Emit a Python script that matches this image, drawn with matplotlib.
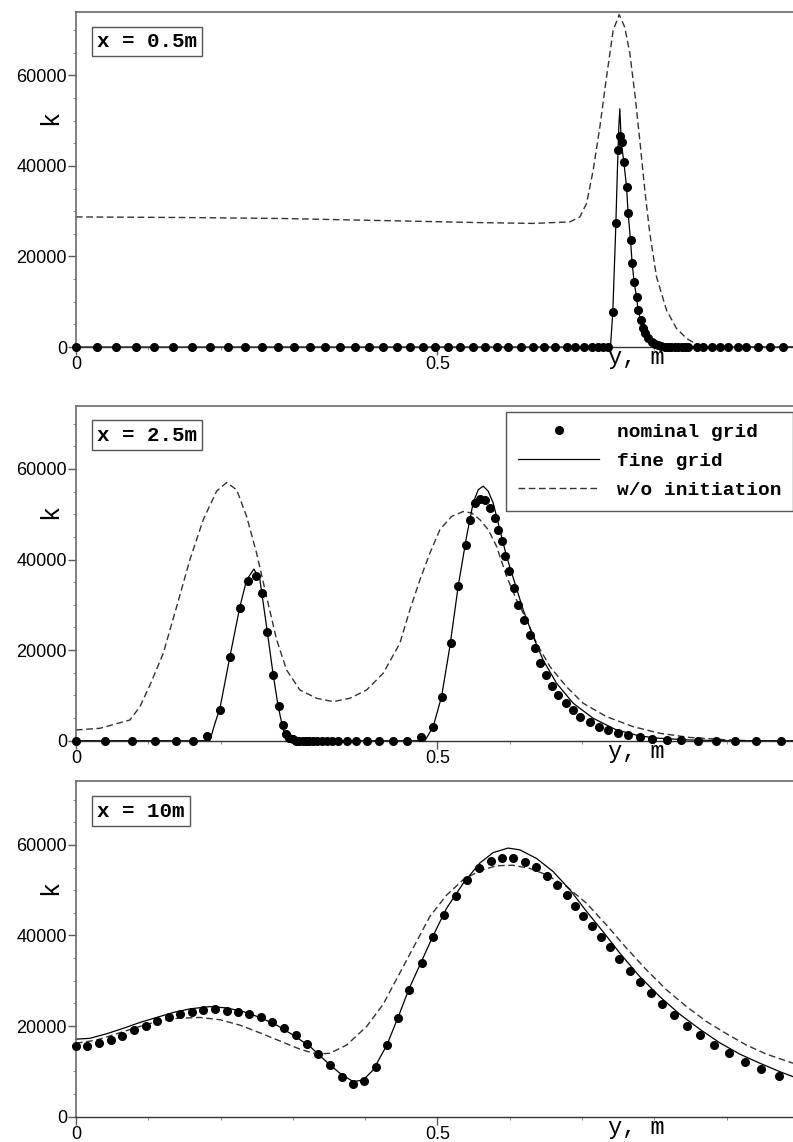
import matplotlib
matplotlib.use("Agg")
import matplotlib.pyplot as plt
from matplotlib.ticker import MultipleLocator
from matplotlib.lines import Line2D
import matplotlib.transforms as mtransforms

# x = 0.5 m
p1_dots_y = [0, 0.0286, 0.0549, 0.0826, 0.1083, 0.1342, 0.1600, 0.1849, 0.2098, 0.2337,
             0.2568, 0.2790, 0.3011, 0.3237, 0.3444, 0.3652, 0.3859, 0.4052, 0.4250, 0.4436,
             0.4620, 0.4795, 0.4965, 0.5149, 0.5311, 0.5487, 0.5657, 0.5819, 0.5979, 0.6151,
             0.6317, 0.6473, 0.6625, 0.6787, 0.6902, 0.7026, 0.7133, 0.7224, 0.7293, 0.7362,
             0.7427, 0.7469, 0.7497, 0.7524, 0.7548, 0.7580, 0.7617, 0.7639, 0.7672, 0.7695,
             0.7722, 0.7755, 0.7777, 0.7811, 0.7838, 0.7870, 0.7916, 0.7963, 0.8008, 0.8054,
             0.8100, 0.8147, 0.8192, 0.8239, 0.8285, 0.8331, 0.8378, 0.8423, 0.8469, 0.8585,
             0.8677, 0.8793, 0.8907, 0.9022, 0.9161, 0.9276, 0.9437, 0.9599, 0.9783]
p1_dots_k = [0] * 40 + [7800, 27400, 43400, 46700, 45300, 40900, 35300, 29500, 23600, 18500,
                        14300, 11100, 8200, 5900, 4100, 3000, 1900, 1200, 660, 370,
                        150, 60] + [0] * 17
p1_fine_y = [0, 0.7395, 0.7427, 0.7465, 0.7492, 0.7510, 0.7524, 0.7545, 0.7580, 0.7617,
             0.7639, 0.7672, 0.7695, 0.7722, 0.7755, 0.7777, 0.7811, 0.7838, 0.7870, 0.7916,
             0.7963, 0.8008, 0.8054, 0.8120, 0.8200, 0.992]
p1_fine_k = [0, 0, 7800, 25000, 39800, 48600, 52600, 45000, 40900, 35300,
             29500, 23600, 18500, 14300, 11100, 8200, 5900, 4100, 3000, 1900,
             1200, 660, 370, 100, 0, 0]
p1_woi_y = [0, 0.15, 0.289, 0.40, 0.448, 0.55, 0.6325, 0.6833, 0.6971, 0.7064,
            0.7155, 0.7248, 0.7340, 0.7432, 0.7515, 0.7593, 0.7663, 0.7732, 0.7801, 0.7870,
            0.7939, 0.8032, 0.8170, 0.8308, 0.8447, 0.8562, 0.870, 0.992]
p1_woi_k = [28730, 28600, 28370, 28000, 27850, 27500, 27300, 27630, 28730, 31700,
            39000, 48600, 59600, 69900, 73400, 70600, 64800, 55900, 45600, 34600,
            25100, 15500, 8160, 4120, 1910, 820, 0, 0]

# x = 2.5 m
p2_dots_y = [0, 0.0401, 0.0770, 0.1093, 0.1383, 0.1614, 0.1816, 0.1992, 0.2130, 0.2268,
             0.2375, 0.2490, 0.2568, 0.2646, 0.2729, 0.2808, 0.2858, 0.2904, 0.2950, 0.2997,
             0.3043, 0.3089, 0.3135, 0.3181, 0.3227, 0.3283, 0.3338, 0.3398, 0.3468, 0.3537,
             0.3628, 0.3744, 0.3873, 0.4021, 0.4187, 0.4381, 0.4583, 0.4768, 0.4934, 0.5066,
             0.5187, 0.5288, 0.5390, 0.5454, 0.5519, 0.5588, 0.5657, 0.5726, 0.5795, 0.5841,
             0.5888, 0.5938, 0.5993, 0.6058, 0.6118, 0.6196, 0.6279, 0.6349, 0.6418, 0.6496,
             0.6579, 0.6671, 0.6773, 0.6870, 0.6971, 0.7109, 0.7238, 0.7362, 0.7501, 0.7639,
             0.7810, 0.7976, 0.8170, 0.8377, 0.8607, 0.8852, 0.9115, 0.9414, 0.9760]
p2_dots_k = [0, 0, 0, 0, 0, 0, 1100, 6790, 18400, 29400,
             35200, 36300, 32600, 24000, 14500, 7670, 3470, 1480, 660, 310,
             0, 0, 0, 0, 0, 0, 0, 0, 0, 0,
             0, 0, 0, 0, 0, 0, 0, 880, 3100, 9730,
             21500, 34100, 43300, 48800, 52500, 53400, 53200, 51400, 49200, 46600,
             44000, 40700, 37400, 33700, 30000, 26700, 23400, 20400, 17200, 14500,
             12100, 10100, 8270, 6790, 5310, 4200, 3100, 2370, 1640, 1260,
             880, 400, 200, 100, 0, 0, 0, 0, 0]
p2_fine_y = [0, 0.1853, 0.1923, 0.1992, 0.2130, 0.2268, 0.2361, 0.2462, 0.2545, 0.2637,
             0.2729, 0.2798, 0.2867, 0.2960, 0.3052, 0.4827, 0.4942, 0.5058, 0.5173, 0.5288,
             0.5404, 0.5495, 0.5565, 0.5634, 0.5703, 0.5772, 0.5864, 0.5957, 0.6072, 0.6187,
             0.6325, 0.6463, 0.6648, 0.6879, 0.7155, 0.7478, 0.7801, 0.8077, 0.85, 0.90, 0.992]
p2_fine_k = [0, 0, 3840, 7160, 18600, 29600, 35500, 37900, 35500, 25200,
             14500, 7520, 2370, 530, 0, 0, 3100, 9730, 20800, 34100,
             45100, 52500, 55400, 56200, 55100, 52500, 46600, 40700, 34800, 28900,
             23000, 17800, 12700, 8270, 4950, 2370, 1040, 530, 150, 0, 0]
p2_woi_y = [0, 0.0332, 0.0747, 0.0885, 0.1024, 0.1208, 0.1393, 0.1577, 0.1761, 0.1946,
            0.2085, 0.2223, 0.2361, 0.2499, 0.2637, 0.2776, 0.2914, 0.3098, 0.3329, 0.3559,
            0.3790, 0.4021, 0.4251, 0.4481, 0.4620, 0.4758, 0.4896, 0.5035, 0.5196, 0.5357,
            0.5473, 0.5588, 0.5703, 0.5819, 0.5957, 0.6095, 0.6234, 0.6372, 0.6556, 0.6787,
            0.7017, 0.7340, 0.7708, 0.8077, 0.85, 0.90, 0.93, 0.992]
p2_woi_k = [2370, 2740, 4580, 7520, 12300, 19300, 29600, 40000, 48800, 55100,
            57000, 55400, 49500, 41400, 31800, 22300, 15600, 11200, 9370, 8620,
            9370, 11200, 14900, 21500, 28900, 35500, 41400, 46600, 49500, 50600,
            50300, 48800, 46600, 42900, 36300, 31100, 26700, 21500, 16400, 11900,
            8270, 5310, 3100, 1640, 700, 200, 0, 0]

# x = 10 m
p3_dots_y = [0, 0.0157, 0.0318, 0.0480, 0.0641, 0.0802, 0.0964, 0.1125, 0.1282, 0.1443,
             0.1604, 0.1761, 0.1918, 0.2084, 0.2245, 0.2397, 0.2559, 0.2715, 0.2877, 0.3038,
             0.3191, 0.3352, 0.3513, 0.3675, 0.3827, 0.3983, 0.4145, 0.4306, 0.4458, 0.4610,
             0.4781, 0.4934, 0.5090, 0.5256, 0.5412, 0.5569, 0.5735, 0.5892, 0.6048, 0.6210,
             0.6362, 0.6519, 0.6657, 0.6787, 0.6902, 0.7017, 0.7133, 0.7257, 0.7386, 0.7515,
             0.7663, 0.7810, 0.7962, 0.8114, 0.8275, 0.8455, 0.8640, 0.8829, 0.9032, 0.9253,
             0.9484, 0.9723]
p3_dots_k = [15600, 15600, 16200, 16900, 17900, 19100, 20100, 21100, 22000, 22700,
             23200, 23600, 23700, 23400, 23200, 22700, 21900, 20800, 19500, 18000,
             16100, 13800, 11400, 8830, 7220, 7950, 10900, 15800, 21800, 28000,
             34000, 39600, 44500, 48800, 52300, 54800, 56500, 57200, 57200, 56300,
             55100, 53200, 51200, 48900, 46500, 44300, 42200, 39700, 37400, 34800,
             32200, 29800, 27200, 24800, 22500, 20100, 18000, 15800, 14000, 12100,
             10500, 9000]
p3_fine_y = [0, 0.0194, 0.0424, 0.0655, 0.0885, 0.1116, 0.1346, 0.1577, 0.1853, 0.2084,
             0.2315, 0.2545, 0.2776, 0.3006, 0.3237, 0.3467, 0.3651, 0.3835, 0.3974, 0.4112,
             0.4301, 0.4458, 0.4610, 0.4781, 0.4934, 0.5127, 0.5357, 0.5588, 0.5772, 0.5979,
             0.6141, 0.6372, 0.6602, 0.6833, 0.7064, 0.7294, 0.7524, 0.7801, 0.8077, 0.8354,
             0.8631, 0.8907, 0.9184, 0.9461, 0.9737, 0.992]
p3_fine_k = [17100, 17300, 18300, 19500, 20800, 21900, 23000, 23800, 24300, 24000,
             23200, 21900, 20200, 18000, 15500, 12100, 9580, 7730, 8100, 10300,
             15800, 22000, 28300, 34300, 39700, 46000, 51500, 56000, 58300, 59300,
             58900, 57000, 54100, 50100, 45300, 40800, 36100, 30900, 26500, 22600,
             19300, 16300, 13800, 11800, 9940, 8830]
p3_woi_y = [0, 0.0286, 0.0563, 0.0839, 0.1116, 0.1393, 0.1715, 0.1992, 0.2268, 0.2545,
            0.2822, 0.3098, 0.3329, 0.3513, 0.3744, 0.4021, 0.4250, 0.4480, 0.4700, 0.4896,
            0.5127, 0.5357, 0.5588, 0.5819, 0.6048, 0.6279, 0.6510, 0.6787, 0.7064, 0.7340,
            0.7617, 0.7893, 0.8170, 0.8447, 0.8723, 0.9000, 0.9276, 0.9553, 0.992]
p3_woi_k = [16200, 16900, 18300, 19700, 21000, 21700, 21900, 21400, 20200, 18500,
            16700, 14900, 13800, 14000, 15800, 19900, 24800, 31700, 38300, 44200,
            48900, 52300, 54300, 55400, 55500, 54800, 53400, 50800, 47100, 42300,
            37200, 32400, 28000, 24300, 21000, 18300, 15800, 13800, 11800]

panels = [
    ("x = 0.5m", p1_dots_y, p1_dots_k, p1_fine_y, p1_fine_k, p1_woi_y, p1_woi_k),
    ("x = 2.5m", p2_dots_y, p2_dots_k, p2_fine_y, p2_fine_k, p2_woi_y, p2_woi_k),
    ("x = 10m", p3_dots_y, p3_dots_k, p3_fine_y, p3_fine_k, p3_woi_y, p3_woi_k),
]
bottoms = [0.6961, 0.3514, 0.0222]

MONO = "Liberation Mono"
SANS = "Liberation Sans"
GREY = "#5a5a5a"

fig = plt.figure(figsize=(7.93, 11.42), dpi=100)

for (title, dy, dk, fy, fk, wy, wk), b in zip(panels, bottoms):
    ax = fig.add_axes([0.0958, b, 0.9042, 0.2935])
    ax.plot(wy, wk, color="#333333", lw=1.0, linestyle=(0, (4.8, 2.6)), clip_on=False, zorder=2)
    ax.plot(fy, fk, color="black", lw=0.9, clip_on=False, zorder=2)
    ax.plot(dy, dk, "o", color="black", ms=5.5, clip_on=False, zorder=3)

    ax.set_xlim(0, 0.992)
    ax.set_ylim(0, 74000)
    ax.set_xticks([0, 0.5])
    ax.set_xticklabels(["0", "0.5"])
    ax.xaxis.set_minor_locator(MultipleLocator(0.1))
    ax.set_yticks([0, 20000, 40000, 60000])
    ax.set_yticklabels(["0", "20000", "40000", "60000"])
    ax.yaxis.set_minor_locator(MultipleLocator(5000))
    ax.tick_params(which="major", direction="out", length=5.5, width=1, color=GREY,
                   labelsize=13, pad=1)
    ax.tick_params(which="minor", direction="out", length=2.5, width=0.7, color="#888888")
    for lab in ax.get_xticklabels() + ax.get_yticklabels():
        lab.set_family(SANS)

    ax.spines["right"].set_visible(False)
    for s in ["top", "left"]:
        ax.spines[s].set_color("#6a6a6a")
        ax.spines[s].set_linewidth(1.2)
    ax.spines["bottom"].set_color("#333333")
    ax.spines["bottom"].set_linewidth(1.0)

    ax.text(-0.036, 0.684, "k", rotation=90, transform=ax.transAxes, ha="center",
            va="center", family=MONO, fontsize=18)
    trans = mtransforms.blended_transform_factory(ax.transData, ax.transAxes)
    ax.text(0.775, -0.032, "y, m", transform=trans, ha="center", va="center",
            family=MONO, fontsize=17)
    ax.text(0.0296, 0.940, title, transform=ax.transAxes, ha="left", va="top",
            family=MONO, fontweight="bold", fontsize=15,
            bbox=dict(boxstyle="square,pad=0.25", fc="white", ec="#555555", lw=1))

    if title == "x = 2.5m":
        handles = [
            Line2D([], [], marker="o", ls="none", color="black", ms=5.5),
            Line2D([], [], color="black", lw=0.9),
            Line2D([], [], color="#333333", lw=1.0, linestyle=(0, (4.8, 2.6))),
        ]
        leg = ax.legend(handles, ["nominal grid", "fine grid", "w/o initiation"],
                        loc="upper right", bbox_to_anchor=(1.0, 0.981), borderaxespad=0,
                        prop=dict(family=MONO, weight="bold", size=14),
                        handlelength=4.2, handletextpad=0.9, labelspacing=0.58,
                        borderpad=0.6, fancybox=False, framealpha=1)
        leg.get_frame().set_edgecolor("#555555")
        leg.get_frame().set_linewidth(1.0)

fig.savefig("out.png", dpi=100)
